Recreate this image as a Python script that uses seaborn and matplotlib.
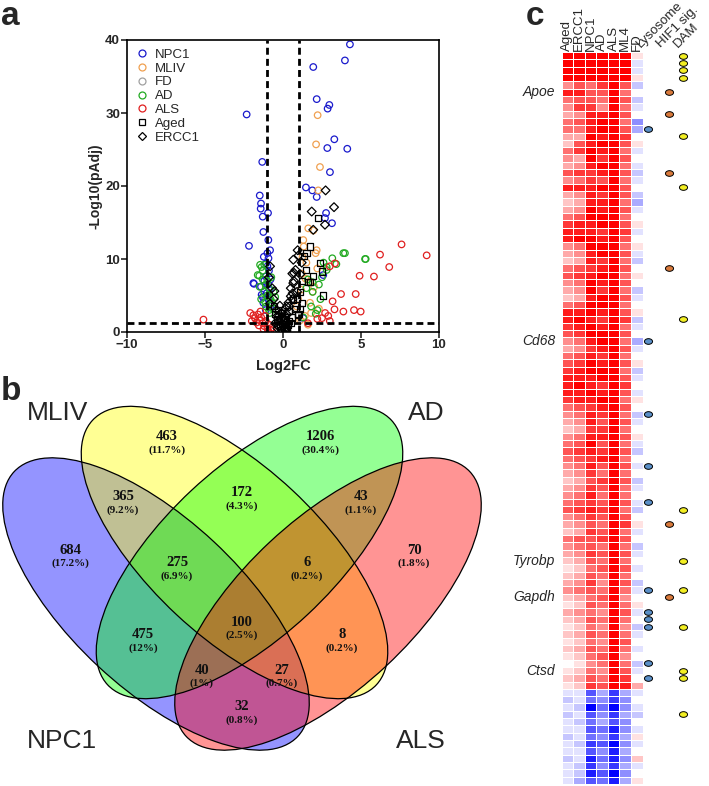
import matplotlib
matplotlib.use("Agg")
import matplotlib.pyplot as plt
from matplotlib.patches import Ellipse
from matplotlib.lines import Line2D
from matplotlib.path import Path
from matplotlib.transforms import Affine2D
import numpy as np
import pandas as pd
import seaborn as sns

# ---------------- panel a : volcano data ----------------
npc1_x = [4.29, 3.97, 1.94, 2.16, 2.97, 2.86, 3.29, 2.84, 4.12, 3.01, 1.47, 1.88, 2.16, 2.76, 2.69, 3.14, 2.58, 1.30,
          -2.33, -1.33, -1.49, -1.41, -1.43, -0.96, -1.30, -1.26, -0.94, -2.18, -0.83, -1.23, -0.93, -1.09, -1.86, -1.41, -1.30, -1.26,
          -1.0, -0.9, -1.1, -0.8, -1.2, -0.95, -0.85, -1.05, -0.9, -0.8, -1.1, -1.9, -1.37, -1.0]
npc1_y = [39.4, 37.2, 36.3, 31.9, 31.1, 30.6, 26.4, 25.2, 25.1, 21.9, 19.8, 19.4, 18.5, 16.3, 15.6, 14.9, 7.8, 1.9,
          29.8, 23.3, 18.7, 17.6, 16.9, 16.3, 15.8, 13.7, 12.6, 11.8, 11.2, 10.3, 10.1, 9.4, 6.6, 6.2, 4.8, 4.0,
          9.0, 8.4, 7.6, 7.2, 7.0, 6.5, 5.8, 5.3, 4.4, 3.6, 3.0, 6.7, 5.1, 10.8]
mliv_x = [2.22, 2.12, 2.37, 2.26, 1.62, 1.94, 1.30, 1.33, 2.16, 2.20, 2.09, 1.73, 1.73, 0.88, 0.96, 1.5, 1.2, 1.9, 2.3, 1.4, 1.1, 1.6,
          1.25, 1.45, 1.8, 2.0, 1.15]
mliv_y = [29.7, 25.7, 22.6, 19.4, 14.2, 13.9, 12.6, 11.7, 11.2, 8.7, 10.8, 6.9, 4.0, 3.5, 4.5, 9.5, 8.0, 5.5, 3.2, 2.2, 1.6, 1.0,
          10.3, 7.3, 2.6, 6.2, 5.8]
fd_x = [0.1, -0.2, 0.3]
fd_y = [0.4, 0.7, 0.2]
ad_x = [3.87, 3.16, 2.80, 3.42, 5.26, 5.30, 3.97, 2.80, 2.50, 2.30, 1.90, 2.40, 1.80, 2.10, 1.60, 1.90, 1.50, 2.60, 2.20, 1.30,
        -1.37, -1.52, -1.62, -1.30, -1.10, -0.90, -1.20, -1.00, -0.80, -1.40, -0.70, -1.10, -0.90, -1.30, -1.20, -1.00, -0.60, -0.75, -1.50, -0.85,
        -1.47, -0.65, -1.15, -0.5]
ad_y = [10.8, 10.1, 8.9, 9.3, 10.0, 10.0, 10.8, 8.5, 7.5, 6.5, 5.5, 4.5, 3.5, 2.5, 7.2, 6.8, 6.0, 9.5, 3.0, 2.0,
        8.9, 7.7, 7.8, 7.2, 6.5, 6.0, 5.5, 5.0, 4.5, 4.5, 4.0, 3.5, 3.0, 8.4, 9.2, 7.0, 5.5, 7.5, 6.2, 2.6,
        9.2, 3.2, 4.1, 4.8]
als_x = [6.22, 9.21, 6.81, 4.91, 5.83, 3.72, 4.66, 3.87, 4.55, 4.98, 3.18, 3.33, -5.10, 3.0, 2.7, 2.9, 3.3, 2.5, 3.0, 2.2, 1.6, 7.6,
         -2.1, -1.9, -1.8, -1.6, -1.5, -1.4, -1.3, -1.2, -1.1, -1.0, -0.9, -0.8, -1.7, -2.0, -1.55, -1.25, -0.95, -0.7, -1.45, -1.15]
als_y = [10.6, 10.5, 8.9, 7.7, 7.6, 5.2, 5.2, 2.8, 3.0, 2.8, 4.2, 9.4, 1.7, 9.0, 2.6, 2.2, 3.1, 1.9, 1.5, 1.8, 1.2, 12.0,
         2.6, 2.3, 1.9, 2.4, 1.6, 2.0, 1.2, 0.8, 1.5, 0.5, 1.0, 0.3, 1.3, 1.5, 0.9, 0.4, 0.2, 0.6, 2.8, 2.2]
aged_x = [2.26, 1.73, 1.50, 2.37, 1.90, 2.54, 1.45, 1.20, 1.60, 1.75, 1.10, 0.90, 1.20, 0.80, 1.00, 0.60, 0.50, 1.35, 2.50, 0.66, 1.09, 0.98,
          0.30, 0.20, -0.20, -0.40, -0.50, -0.30, 0.10, -0.10, 0.40, 0.15, -0.05, 0.25, -0.6, -0.15, 0.35, 0.05]
aged_y = [15.6, 11.7, 10.8, 9.5, 7.7, 5.0, 8.5, 7.0, 6.8, 6.8, 5.5, 4.5, 4.0, 3.2, 2.5, 2.0, 1.2, 10.4, 8.3, 4.4, 3.2, 2.3,
          1.0, 0.6, 0.8, 1.8, 2.5, 3.0, 0.4, 0.2, 1.5, 2.0, 1.1, 0.3, 3.6, 2.6, 2.9, 1.7]
ercc1_x = [2.73, 3.27, 1.84, 1.94, 2.69, 0.94, 0.66, -0.83, 1.00, 0.80, 0.70, 0.50, 0.90, 0.60, 0.40, 0.20, 0.00, -0.20, -0.40, -0.60,
           -0.70, -0.90, 0.30, 0.10, -0.10, 0.20, 0.35, 0.60, 1.20, 1.10, -0.30, -0.15, 0.05, 0.15, -0.25, 0.45, -0.5, -0.35,
           0.71, 0.66, 0.62, 0.24, -0.08, -0.40, -0.83, -0.55, 0.5, -0.2]
ercc1_y = [19.4, 17.1, 16.5, 14.0, 14.7, 11.2, 9.9, 9.0, 10.5, 8.5, 7.0, 6.0, 5.5, 4.5, 3.5, 2.5, 2.0, 1.5, 3.0, 4.5,
           6.0, 7.5, 1.0, 0.5, 0.3, 1.2, 4.0, 8.0, 9.5, 7.9, 0.8, 1.8, 1.4, 0.2, 2.2, 2.8, 1.2, 0.5,
           8.1, 6.7, 5.3, 3.5, 2.6, 2.1, 3.9, 5.6, 4.9, 3.6]

groups = ["NPC1", "MLIV", "FD", "AD", "ALS", "Aged", "ERCC1"]
group_x = [npc1_x, mliv_x, fd_x, ad_x, als_x, aged_x, ercc1_x]
group_y = [npc1_y, mliv_y, fd_y, ad_y, als_y, aged_y, ercc1_y]
group_col = ["#1a1acc", "#f0a050", "#a0a0a0", "#22aa22", "#e02020", "black", "black"]
group_mk = ["o", "o", "o", "o", "o", "s", "D"]

# ---------------- panel b : venn data ----------------
venn_sets = ["NPC1", "MLIV", "AD", "ALS"]
venn_counts = [684, 463, 1206, 70, 365, 172, 43, 475, 275, 6, 8, 100, 40, 27, 32]
venn_pcts = ["17.2%", "11.7%", "30.4%", "1.8%", "9.2%", "4.3%", "1.1%", "12%",
             "6.9%", "0.2%", "0.2%", "2.5%", "1%", "0.7%", "0.8%"]

# ---------------- panel c : heatmap data ----------------
heat_cols = ["Aged", "ERCC1", "NPC1", "AD", "ALS", "ML4", "FD"]
aged = [9, 9, 9, 9, 4, 8, 5, 4, 3, 5,  5, 3, 2, 5, 4, 3, 6, 4, 8, 3,
        2, 3, 5, 7, 8, 8, 4, 3, 2, 5,  6, 4, 3, 2, 5, 8, 8, 7, 6, 4,
        3, 5, 6, 7, 8, 8, 8, 7, 5, 4,  3, 2, 4, 5, 6, 5, 4, 3, 2, 3,
        4, 5, 6, 4, 3, 2, 5, 4, 3, 2,  1, 2, 3, 4, 2, 1, 3, 2, 1, 2,
        1, 2, 1, 0, 1, 2, 1, -1, -2, -1,  -2, -1, -1, -2, -1, -1, -2, -1, -1, -1]
ercc1 = [9, 9, 9, 9, 6, 8, 6, 7, 4, 6,  5, 3, 6, 7, 3, 4, 7, 5, 8, 4,
         3, 4, 6, 8, 8, 9, 5, 4, 3, 6,  7, 5, 4, 3, 6, 8, 9, 8, 7, 5,
         4, 6, 7, 8, 8, 9, 8, 8, 6, 5,  4, 3, 5, 6, 7, 6, 5, 4, 3, 4,
         5, 6, 7, 5, 4, 3, 6, 5, 4, 3,  2, 3, 4, 5, 3, 2, 4, 3, 2, 3,
         2, 3, 2, 1, 2, 3, 2, -1, -1, -2,  -1, -2, -1, -1, -2, -1, -1, -2, -2, -3]
npc1 = [9, 9, 9, 9, 5, 6, 6, 7, 8, 8,  8, 9, 8, 9, 9, 8, 7, 7, 8, 8,
        8, 9, 9, 8, 8, 9, 9, 8, 8, 7,  8, 9, 9, 8, 9, 9, 8, 9, 9, 8,
        7, 8, 9, 9, 8, 8, 9, 8, 7, 8,  8, 7, 8, 9, 8, 7, 8, 7, 6, 7,
        8, 7, 8, 7, 6, 7, 6, 6, 7, 6,  5, 6, 7, 6, 5, 6, 5, 6, 5, 6,
        5, 6, 5, 4, 5, 6, 7, -6, -5, -9,  -6, -5, -6, -5, -7, -6, -8, -7, -8, -6]
ad = [9, 9, 9, 9, 7, 6, 5, 4, 8, 9,  9, 8, 9, 8, 7, 9, 8, 6, 9, 7,
      8, 8, 9, 9, 7, 8, 9, 9, 7, 8,  9, 8, 7, 9, 9, 8, 7, 8, 9, 9,
      8, 7, 8, 9, 9, 7, 8, 9, 8, 7,  6, 7, 8, 6, 7, 8, 6, 5, 7, 6,
      5, 6, 7, 6, 5, 6, 7, 5, 6, 5,  6, 5, 4, 5, 6, 5, 4, 5, 4, 5,
      4, 5, 6, 5, 4, 5, 6, -3, -4, -5,  -4, -3, -5, -4, -6, -4, -5, -4, -6, -5]
als = [9, 9, 9, 9, 9, 9, 9, 9, 9, 9,  9, 9, 9, 9, 9, 9, 9, 9, 9, 9,
       9, 9, 9, 9, 9, 9, 9, 9, 9, 9,  9, 9, 9, 9, 9, 9, 9, 9, 9, 9,
       9, 9, 9, 9, 9, 9, 9, 9, 9, 9,  9, 9, 9, 9, 9, 9, 9, 9, 9, 9,
       9, 9, 9, 9, 9, 9, 9, 9, 9, 9,  9, 9, 9, 9, 9, 9, 9, 9, 9, 9,
       9, 9, 9, 9, 9, 9, 9, -7, -7, -9,  -7, -6, -8, -7, -9, -8, -8, -7, -9, -8]
ml4 = [9, 9, 9, 9, 6, 5, 6, 5, 6, 5,  6, 7, 6, 5, 6, 5, 6, 5, 6, 6,
       5, 6, 5, 6, 7, 6, 5, 6, 5, 6,  5, 6, 5, 6, 5, 6, 7, 5, 6, 5,
       6, 5, 6, 5, 6, 7, 6, 5, 6, 5,  6, 5, 6, 5, 6, 5, 6, 5, 6, 5,
       5, 6, 5, 6, 7, 5, 6, 5, 6, 5,  6, 5, 6, 5, 4, 5, 6, 5, 4, 5,
       6, 5, 4, 5, 6, 7, 8, -3, -4, -4,  -3, -4, -4, -3, -4, -3, -4, -3, -4, -3]
fd = [1, -1, -1, 1, -2, 0, -2, -1, 0, -4,  -3, 0, 1, -1, 0, -1, -2, -1, 0, -2,
      -3, -1, 0, 1, -1, 0, 1, -1, -2, 0,  1, 0, -2, -1, 0, 1, -2, -1, 0, -3,
      -1, 0, 1, -2, -1, 0, -1, 1, 0, -2,  -1, 0, 1, -1, -2, 0, -1, 0, -2, -1,
      0, -1, -2, 0, 1, -1, 0, -2, -1, 0,  -1, 0, -2, -1, 0, 1, -1, 0, -2, -1,
      0, -1, 0, -2, -1, 0, 3, -1, 0, -1,  -2, 0, -1, 1, -1, 0, 2, -1, 0, 1]

dam_rows = [0, 1, 2, 3, 11, 18, 36, 62, 69, 73, 78, 84, 85, 90]
hif1_rows = [5, 8, 16, 29, 64, 74]
lyso_rows = [10, 39, 49, 56, 61, 73, 76, 77, 78, 83, 85]
gene_names = ["Apoe", "Cd68", "Tyrobp", "Gapdh", "Ctsd"]
gene_rows = [5, 39, 69, 74, 84]

# ---------------- figure ----------------
sns.set_style("white")
plt.rcParams["font.family"] = ["Liberation Sans", "DejaVu Sans"]
W, H = 709, 786
fig = plt.figure(figsize=(W / 100, H / 100), dpi=100)

# overlay in pixel coordinates for the venn and panel letters
ov = fig.add_axes([0, 0, 1, 1])
ov.set_xlim(0, W)
ov.set_ylim(H, 0)
ov.axis("off")

# ---- a: volcano ----
ax = fig.add_axes([127 / W, 1 - 332 / H, 312 / W, 292 / H])
frames = [pd.DataFrame({"Log2FC": gx, "nlp": gy, "group": g}) for g, gx, gy in zip(groups, group_x, group_y)]
vdf = pd.concat(frames, ignore_index=True)
for g, c, m in zip(groups, group_col, group_mk):
    sub = vdf[vdf["group"] == g]
    sns.scatterplot(data=sub, x="Log2FC", y="nlp", marker=m, s=22 if m == "o" else 20,
                    color=c, facecolor="none", edgecolor=c, linewidth=0.9, legend=False, ax=ax)
ax.axvline(-1, color="black", lw=2, ls=(0, (2.5, 1.5)))
ax.axvline(1, color="black", lw=2, ls=(0, (2.5, 1.5)))
ax.axhline(1.3, color="black", lw=2, ls=(0, (2.5, 1.5)))
ax.set_xlim(-10, 10)
ax.set_ylim(0, 40)
ax.set_xticks([-10, -5, 0, 5, 10])
ax.set_yticks([0, 10, 20, 30, 40])
ax.set_xlabel("Log2FC", fontsize=10.5, fontweight="bold", labelpad=6)
ax.set_ylabel("-Log10(pAdj)", fontsize=10, fontweight="bold", labelpad=2)
ax.tick_params(direction="out", length=4, width=1.2, labelsize=9.5, pad=1, bottom=True, left=True)
for lab in ax.get_xticklabels() + ax.get_yticklabels():
    lab.set_fontweight("bold")
for sp in ax.spines.values():
    sp.set_linewidth(1.2)
    sp.set_color("black")
handles = [Line2D([], [], ls="", marker=m, mfc="none", mec=c, mew=0.9, ms=5 if m != "D" else 4.5)
           for c, m in zip(group_col, group_mk)]
ax.legend(handles, groups, loc="upper left", bbox_to_anchor=(0.0, 1.0), frameon=False,
          fontsize=9.5, handlelength=1.0, handletextpad=0.5, labelspacing=0.12, borderaxespad=0.25)

# ---- b: venn ----
ell_geo = [(156, 604, 43), (234.5, 552.5, 43), (249.5, 552.5, -43), (328, 604, -43)]
venn_fill = ["#0000ff", "#ffff00", "#00ff00", "#ff0000"]
for (cx, cy, an), c in zip(ell_geo, venn_fill):
    ov.add_patch(Ellipse((cx, cy), 388, 170, angle=an, fc=c, alpha=0.42, ec="none"))
for cx, cy, an in ell_geo:
    ov.add_patch(Ellipse((cx, cy), 388, 170, angle=an, fill=False, ec="black", lw=0.9))
venn_pos = [(70, 550), (167, 437), (320, 437), (414, 550), (123, 497), (242, 493), (361, 497),
            (143, 635), (177, 563), (307, 563), (342, 635), (242, 622), (202, 670), (282, 670), (242, 707)]
for (px, py), n, p in zip(venn_pos, venn_counts, venn_pcts):
    ov.text(px, py, str(n), ha="center", va="center", fontsize=10.5, fontweight="bold",
            family="Liberation Serif", color="#111111")
    ov.text(px, py + 13, "(" + p + ")", ha="center", va="center", fontsize=8, fontweight="bold",
            family="Liberation Serif", color="#111111")
set_lab_pos = [(62, 748), (58, 420), (426, 420), (421, 748)]
for (px, py), s in zip(set_lab_pos, venn_sets):
    ov.text(px, py, s, ha="center", va="baseline", fontsize=19)

ov.text(1, 25, "a", fontsize=24, fontweight="bold", va="baseline")
ov.text(1, 400, "b", fontsize=24, fontweight="bold", va="baseline")
ov.text(526, 25, "c", fontsize=24, fontweight="bold", va="baseline")

# ---- c: heatmap ----
heat = pd.DataFrame(dict(zip(heat_cols, [aged, ercc1, npc1, ad, als, ml4, fd]))) / 9.0
axh = fig.add_axes([561.5 / W, 1 - 784 / H, 81 / W, 732 / H])
sns.heatmap(heat, cmap="bwr", vmin=-1, vmax=1, cbar=False, linewidths=0.7, linecolor="white",
            xticklabels=True, yticklabels=False, ax=axh)
axh.xaxis.tick_top()
axh.set_xticklabels(heat_cols, rotation=90, fontsize=9.5)
axh.tick_params(length=0, pad=1)

dot_mk = Path.unit_circle().transformed(Affine2D().scale(1.0, 0.7))
for xpos, rows, c in [(7.48, lyso_rows, "#5a8fc8"), (9.29, hif1_rows, "#d97a3c"), (10.5, dam_rows, "#f2ee22")]:
    sns.scatterplot(x=[xpos] * len(rows), y=np.array(rows) + 0.5, marker=dot_mk, s=34, color=c,
                    edgecolor="black", linewidth=0.7, clip_on=False, legend=False, ax=axh)
axh.set_xlim(0, 7)
axh.set_ylim(100, 0)
axh.set_xlabel("")
axh.set_ylabel("")
for xpos, lab in [(7.04, "Lysosome"), (8.77, "HIF1 sig."), (10.24, "DAM")]:
    axh.text(xpos, -0.3, lab, rotation=45, rotation_mode="anchor", ha="left", va="bottom",
             fontsize=9.5, clip_on=False)
for g, r in zip(gene_names, gene_rows):
    axh.text(-0.55, r + 0.5, g, ha="right", va="center", fontsize=10, style="italic")

fig.savefig("out.png", dpi=100)
